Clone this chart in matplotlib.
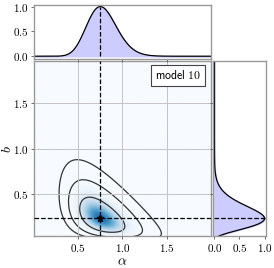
import numpy as np
import matplotlib
matplotlib.use("Agg")
import matplotlib.pyplot as plt
from matplotlib.ticker import FuncFormatter

plt.rcParams['mathtext.fontset'] = 'cm'
plt.rcParams['font.family'] = ['DejaVu Serif']

# ---- data / model parameters ----
alpha_best = 0.75
b_best = 0.23
sigma_sqrt_alpha = 0.097
sigma_sqrt_b = 0.133
rho = -0.5
delta_chi2 = [11.83, 6.18, 2.30]
ticks_main = [0.5, 1.0, 1.5]
ticks_marg = [0.0, 0.5, 1.0]
model_label = 'model 10'
alpha_range = (0.0, 2.0)
b_range = (0.0, 2.0)

a = np.linspace(alpha_range[0], alpha_range[1], 501)
bb = np.linspace(b_range[0], b_range[1], 501)
A, B = np.meshgrid(a, bb)
du = (np.sqrt(A) - np.sqrt(alpha_best)) / sigma_sqrt_alpha
dv = (np.sqrt(B) - np.sqrt(b_best)) / sigma_sqrt_b
Q = (du**2 - 2 * rho * du * dv + dv**2) / (1 - rho**2)
L = np.exp(-0.5 * Q)
levels = [np.exp(-0.5 * d) for d in delta_chi2]
prof_alpha = L.max(axis=0)
prof_b = L.max(axis=1)

fmt = FuncFormatter(lambda v, p: r'$%.1f$' % v)
spine_c = '#999999'

fig = plt.figure(figsize=(2.74, 2.68), dpi=100)
ax = fig.add_axes([0.124, 0.119, 0.646, 0.653])
axt = fig.add_axes([0.124, 0.781, 0.646, 0.200])
axr = fig.add_axes([0.777, 0.119, 0.194, 0.653])

# main panel
ax.imshow(L**1.4, extent=[a[0], a[-1], bb[0], bb[-1]], origin='lower', cmap='Blues',
          aspect='auto', vmin=0, vmax=1.3, interpolation='bilinear', zorder=0)
ax.contour(A, B, L, levels=levels, colors='#333333', linewidths=0.9, zorder=2)
ax.grid(True, color='#c4c4c4', lw=0.7, zorder=1)
ax.set_axisbelow(False)
ax.axvline(alpha_best, color='k', ls='--', lw=0.9, zorder=3)
ax.axhline(b_best, color='k', ls='--', lw=0.9, zorder=3)
ax.plot([alpha_best], [b_best], marker='*', color='k', ms=5, zorder=4)
ax.set_xlim(0.0, 2.0)
ax.set_ylim(0.035, 1.965)
ax.set_xticks(ticks_main)
ax.set_yticks(ticks_main)
ax.xaxis.set_major_formatter(fmt)
ax.yaxis.set_major_formatter(fmt)
ax.set_xlabel(r'$\alpha$', fontsize=10)
ax.set_ylabel(r'$b$', fontsize=10)
ax.yaxis.set_label_coords(-0.115, 0.5)
ax.xaxis.set_label_coords(0.5, -0.105)
ax.text(0.945, 0.955, r'$\mathsf{model\ 10}$', transform=ax.transAxes, ha='right', va='top',
        fontsize=8.5, bbox=dict(boxstyle='square,pad=0.35', fc='white', ec='#444444', lw=0.8), zorder=5)

# top marginal
axt.fill_between(a, prof_alpha, color='#ccccff', zorder=1)
axt.plot(a, prof_alpha, color='k', lw=0.9, zorder=2)
axt.plot([alpha_best, alpha_best], [0, 1], color='k', ls='--', lw=0.9, zorder=3)
axt.set_xlim(0.0, 2.0)
axt.set_ylim(-0.05, 1.03)
axt.set_xticks(ticks_main)
axt.set_xticklabels([])
axt.tick_params(axis='x', length=0)
axt.set_yticks(ticks_marg)
axt.yaxis.set_major_formatter(fmt)

# right marginal
axr.fill_betweenx(bb, prof_b, color='#ccccff', zorder=1)
axr.plot(prof_b, bb, color='k', lw=0.9, zorder=2)
axr.plot([0, 1], [b_best, b_best], color='k', ls='--', lw=0.9, zorder=3)
axr.set_ylim(0.035, 1.965)
axr.set_xlim(-0.03, 1.03)
axr.set_yticks(ticks_main)
axr.set_yticklabels([])
axr.tick_params(axis='y', length=0)
axr.set_xticks(ticks_marg)
axr.xaxis.set_major_formatter(fmt)

for axx in (ax, axt, axr):
    for s in axx.spines.values():
        s.set_color(spine_c)
        s.set_linewidth(1.0)
    axx.tick_params(labelsize=8, length=2.5, width=0.6, color='#555555', pad=1.5)

fig.savefig('out.png', dpi=100)
